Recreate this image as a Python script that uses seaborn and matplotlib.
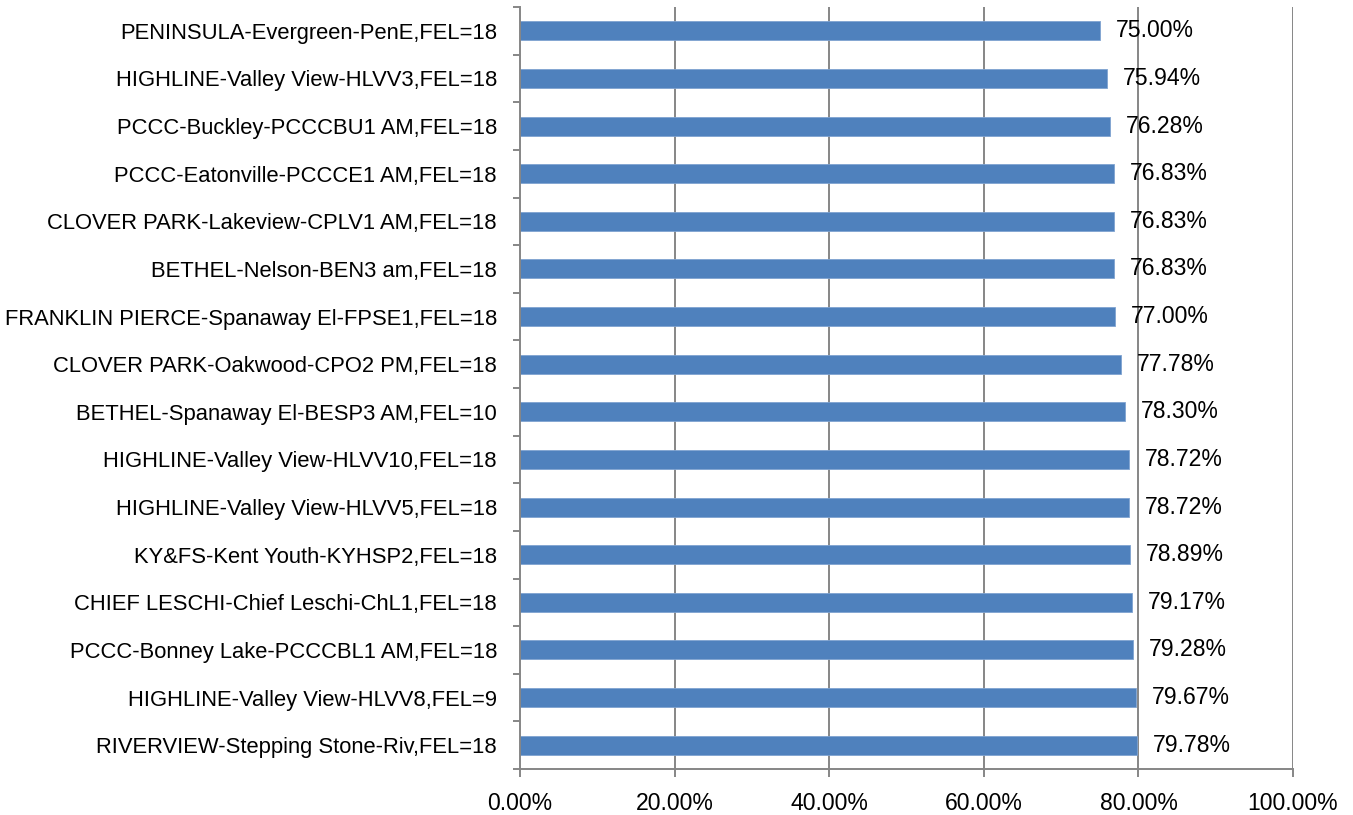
import matplotlib
matplotlib.use("Agg")
import matplotlib.pyplot as plt
import seaborn as sns
import pandas as pd
import numpy as np
from matplotlib.ticker import FixedLocator, PercentFormatter

categories = [
    "PENINSULA-Evergreen-PenE,FEL=18",
    "HIGHLINE-Valley View-HLVV3,FEL=18",
    "PCCC-Buckley-PCCCBU1 AM,FEL=18",
    "PCCC-Eatonville-PCCCE1 AM,FEL=18",
    "CLOVER PARK-Lakeview-CPLV1 AM,FEL=18",
    "BETHEL-Nelson-BEN3 am,FEL=18",
    "FRANKLIN PIERCE-Spanaway El-FPSE1,FEL=18",
    "CLOVER PARK-Oakwood-CPO2 PM,FEL=18",
    "BETHEL-Spanaway El-BESP3 AM,FEL=10",
    "HIGHLINE-Valley View-HLVV10,FEL=18",
    "HIGHLINE-Valley View-HLVV5,FEL=18",
    "KY&FS-Kent Youth-KYHSP2,FEL=18",
    "CHIEF LESCHI-Chief Leschi-ChL1,FEL=18",
    "PCCC-Bonney Lake-PCCCBL1 AM,FEL=18",
    "HIGHLINE-Valley View-HLVV8,FEL=9",
    "RIVERVIEW-Stepping Stone-Riv,FEL=18",
]
values = [75.00, 75.94, 76.28, 76.83, 76.83, 76.83, 77.00, 77.78,
          78.30, 78.72, 78.72, 78.89, 79.17, 79.28, 79.67, 79.78]
x_ticks = [0, 20, 40, 60, 80, 100]

sns.set_theme(style="white")
plt.rcParams["font.family"] = ["Liberation Sans", "DejaVu Sans"]

df = pd.DataFrame({"category": categories, "value": values})

fig = plt.figure(figsize=(13.53, 8.15), dpi=100)
ax = fig.add_axes([0.3843, 0.0564, 0.9557 - 0.3843, 0.9914 - 0.0564])

grid_col = "#868686"
sns.barplot(data=df, x="value", y="category", orient="h", color="#4F81BD",
            width=0.4, saturation=1, edgecolor="#7FA3D0", linewidth=0.6, ax=ax)

ax.set_xlim(0, 100)
ax.set_ylim(len(categories) - 0.5, -0.5)
ax.set_xticks(x_ticks)
ax.xaxis.set_major_formatter(PercentFormatter(decimals=2))
for xv in x_ticks[1:]:
    ax.axvline(xv, color=grid_col, lw=1.4, zorder=0)

ax.set_xlabel("")
ax.set_ylabel("")

for s in ["top", "right"]:
    ax.spines[s].set_visible(False)
for s in ["left", "bottom"]:
    ax.spines[s].set_color(grid_col)
    ax.spines[s].set_linewidth(1.4)

ax.tick_params(axis="y", which="major", length=0, pad=16.5, labelsize=15.8, labelcolor="black")
ax.yaxis.set_minor_locator(FixedLocator(np.arange(-0.5, len(categories), 1.0)))
ax.tick_params(axis="y", which="minor", length=5, width=1.4, color=grid_col, left=True)
ax.tick_params(axis="x", which="major", length=5.5, width=1.4, color=grid_col,
               bottom=True, pad=11, labelsize=16.6, labelcolor="black")

ax.bar_label(ax.containers[0], labels=[f"{v:.2f}%" for v in values],
             padding=11.5, fontsize=16.6, color="black")

fig.savefig("out.png", dpi=100)
